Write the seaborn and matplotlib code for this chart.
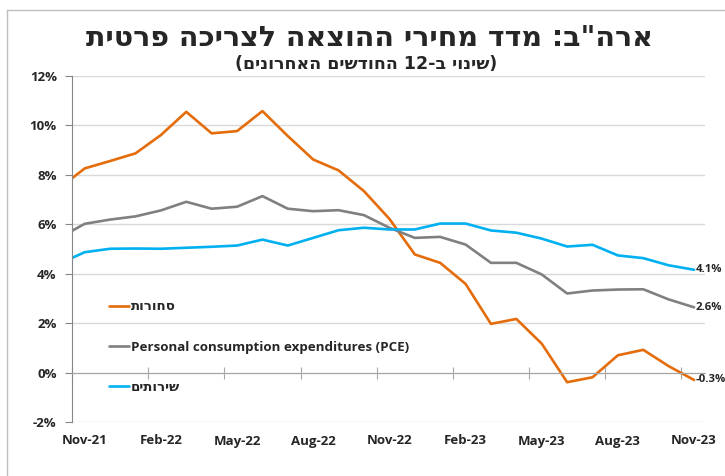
import numpy as np
import pandas as pd
import seaborn as sns
import matplotlib.pyplot as plt
from matplotlib.lines import Line2D

# monthly data, Oct-21 .. Nov-23 (Oct-21 only shows as the clipped start of the lines)
months = ['Oct-21', 'Nov-21', 'Dec-21', 'Jan-22', 'Feb-22', 'Mar-22', 'Apr-22', 'May-22',
          'Jun-22', 'Jul-22', 'Aug-22', 'Sep-22', 'Oct-22', 'Nov-22', 'Dec-22', 'Jan-23',
          'Feb-23', 'Mar-23', 'Apr-23', 'May-23', 'Jun-23', 'Jul-23', 'Aug-23', 'Sep-23',
          'Oct-23', 'Nov-23']
goods = [7.46, 8.26, 8.56, 8.87, 9.61, 10.55, 9.68, 9.77, 10.58, 9.57, 8.62, 8.18, 7.34,
         6.22, 4.78, 4.44, 3.59, 1.97, 2.17, 1.17, -0.39, -0.19, 0.70, 0.92, 0.26, -0.30]
pce = [5.45, 6.02, 6.19, 6.32, 6.56, 6.91, 6.63, 6.71, 7.14, 6.63, 6.53, 6.57, 6.37,
       5.86, 5.45, 5.49, 5.18, 4.44, 4.44, 3.97, 3.20, 3.32, 3.36, 3.37, 2.96, 2.64]
services = [4.41, 4.87, 5.01, 5.02, 5.01, 5.05, 5.09, 5.14, 5.38, 5.14, 5.45, 5.76, 5.86,
            5.79, 5.79, 6.03, 6.03, 5.75, 5.66, 5.42, 5.10, 5.17, 4.74, 4.63, 4.34, 4.16]

# hebrew strings are stored in visual (left-to-right) order since matplotlib has no bidi
series_names = ['תורוחס', 'Personal consumption expenditures (PCE)', 'םיתוריש']
end_labels = ['-0.3%', '2.6%', '4.1%']
xtick_labels = ['Nov-21', 'Feb-22', 'May-22', 'Aug-22', 'Nov-22', 'Feb-23', 'May-23', 'Aug-23', 'Nov-23']
title = 'תיטרפ הכירצל האצוהה יריחמ דדמ :ב"הרא'
subtitle = '(םינורחאה םישדוחה 12-ב יוניש)'

colors = ['#E46C0A', '#808080', '#00B0F0']

sns.set_style('white')
plt.rcParams['font.family'] = ['Open Sans', 'DejaVu Sans']
plt.rcParams['font.weight'] = 'bold'

pos = np.arange(-1, len(months) - 1)
df = pd.DataFrame({
    'pos': np.tile(pos, 3),
    'value': goods + pce + services,
    'series': np.repeat(series_names, len(months)),
})

fig = plt.figure(figsize=(7.25, 4.76), dpi=100)
ax = fig.add_axes([72 / 725, 1 - 422 / 476, 633 / 725, 346 / 476])

sns.lineplot(data=df, x='pos', y='value', hue='series', palette=colors,
             hue_order=series_names, linewidth=1.9, ax=ax, legend=False)

ax.set_xlim(-0.5, 24.43)
ax.set_ylim(-2, 12)
ax.set_xlabel('')
ax.set_ylabel('')

# y axis
yt = np.arange(-2, 13, 2)
ax.set_yticks(yt)
ax.set_yticklabels([f'{v}%' for v in yt], fontsize=9.5, fontweight='bold')
ax.tick_params(axis='y', direction='out', length=5, color='#868686', pad=6, left=True)
ax.yaxis.grid(True, color='#d9d9d9', linewidth=1)
ax.set_axisbelow(True)
ax.spines['left'].set_color('#868686')
ax.spines['top'].set_visible(False)
ax.spines['right'].set_visible(False)

# x axis line at 0 with tick marks between categories
ax.spines['bottom'].set_position(('data', 0))
ax.spines['bottom'].set_color('#a6a6a6')
ax.set_xticks(np.arange(-0.5, 24, 3))
ax.set_xticklabels([])
ax.tick_params(axis='x', direction='inout', length=8, color='#a6a6a6', bottom=True)

sec = ax.secondary_xaxis(0.0)
sec.set_xticks(np.arange(0, 25, 3))
sec.set_xticklabels(xtick_labels, fontsize=9.5, fontweight='bold')
sec.tick_params(length=0, pad=9)
sec.spines['bottom'].set_visible(False)

# end-of-line value labels
for vals, lab in zip([goods, pce, services], end_labels):
    ax.annotate(lab, xy=(pos[-1], vals[-1]), xytext=(1, 0), textcoords='offset points',
                ha='left', va='center', fontsize=8.2, fontweight='bold', annotation_clip=False)

handles = [Line2D([], [], color=c, lw=1.9) for c in colors]
leg = ax.legend(handles, series_names, loc='upper left', bbox_to_anchor=(0.058, 0.352),
                frameon=False, borderpad=0, borderaxespad=0, handlelength=1.5,
                handletextpad=0.15, labelspacing=2.05, prop={'size': 9.6, 'weight': 'bold'})

fig.text(370 / 725, 1 - 38 / 476, title, ha='center', va='center', fontsize=20.5,
         fontweight='bold', family='DejaVu Sans')
fig.text(366 / 725, 1 - 64 / 476, subtitle, ha='center', va='center', fontsize=12.5,
         fontweight='bold', family='DejaVu Sans')

# chart frame (left and top edges visible in the crop)
fig.add_artist(Line2D([7 / 725, 7 / 725], [0, 1 - 10 / 476], transform=fig.transFigure,
                      color='#bfbfbf', lw=1))
fig.add_artist(Line2D([7 / 725, 1], [1 - 10 / 476, 1 - 10 / 476], transform=fig.transFigure,
                      color='#bfbfbf', lw=1))

fig.savefig('out.png', dpi=100)
